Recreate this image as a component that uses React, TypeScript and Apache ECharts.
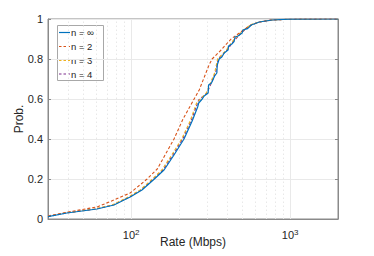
import React, { useEffect, useRef } from 'react';
import * as echarts from 'echarts';

// n = ∞ (solid blue)
const xInf = [30, 39.5, 61, 78, 98.6, 117, 140, 161, 186, 215, 242, 262, 266, 280, 288, 305, 307, 320, 335, 346, 348, 358, 372, 385, 407, 410, 430, 444, 450, 470, 499, 505, 540, 570, 640, 770, 990, 2000];
const yInf = [0.012, 0.03, 0.05, 0.07, 0.11, 0.145, 0.2, 0.245, 0.32, 0.4, 0.49, 0.56, 0.58, 0.6, 0.615, 0.63, 0.67, 0.68, 0.715, 0.73, 0.77, 0.8, 0.81, 0.83, 0.845, 0.865, 0.875, 0.887, 0.91, 0.915, 0.93, 0.945, 0.952, 0.97, 0.985, 0.995, 0.999, 1.0];
// n = 2 (orange dashed)
const x2 = [30, 40, 61, 78, 98.6, 126, 146, 186, 212, 245, 268, 309, 323, 368, 425, 499, 552, 640, 770, 990, 2000];
const y2 = [0.015, 0.035, 0.06, 0.095, 0.13, 0.2, 0.25, 0.4, 0.5, 0.59, 0.645, 0.77, 0.8, 0.845, 0.9, 0.94, 0.965, 0.985, 0.995, 0.999, 1.0];
// n = 3 (yellow dashed)
const x3 = [30, 38.5, 59, 76, 96, 114, 136, 156, 180, 208, 235, 258, 297, 335, 350, 397, 432, 487, 520, 560, 635, 765, 985, 2000];
const y3 = [0.013, 0.03, 0.05, 0.07, 0.11, 0.145, 0.2, 0.245, 0.32, 0.4, 0.49, 0.58, 0.63, 0.73, 0.8, 0.845, 0.887, 0.93, 0.95, 0.97, 0.985, 0.995, 0.999, 1.0];
// n = 4 (purple dashed)
const x4 = [30, 39, 60, 77, 97.5, 115.5, 138, 158.5, 183, 211, 238, 266, 300, 340, 353, 402, 438, 493, 525, 565, 638, 768, 988, 2000];
const y4 = [0.012, 0.03, 0.05, 0.07, 0.11, 0.145, 0.2, 0.245, 0.32, 0.4, 0.49, 0.595, 0.63, 0.73, 0.8, 0.845, 0.887, 0.93, 0.95, 0.97, 0.985, 0.995, 0.999, 1.0];

const seriesNames = ['n = ∞', 'n = 2', 'n = 3', 'n = 4'];
const seriesColors = ['#0072BD', '#D95319', '#EDB120', '#7E2F8E'];
const majorGridX = [100, 1000];
const minorGridX = [40, 50, 60, 70, 80, 90, 200, 300, 400, 500, 600, 700, 800, 900];

const FONT = '"Liberation Sans", Arial, Helvetica, sans-serif';
const TXT = '#262626';
const AX = '#8a8a8a';

export default function App() {
  const ref = useRef<HTMLDivElement>(null);
  useEffect(() => {
    const chart = echarts.init(ref.current!, null, { renderer: 'svg' });
    const pair = (xs: number[], ys: number[]) => xs.map((x, i) => [x, ys[i]]);
    const datasets = [pair(xInf, yInf), pair(x2, y2), pair(x3, y3), pair(x4, y4)];

    const legendLeft = 57, legendTop = 25, legendW = 46, legendH = 55;
    const rowY = [32.5, 46.5, 60.3, 74];
    const legendChildren: any[] = [
      { type: 'rect', shape: { x: legendLeft + 0.5, y: legendTop + 0.5, width: legendW, height: legendH }, style: { fill: '#fff', stroke: '#a8a8a8', lineWidth: 1 } },
    ];
    seriesNames.forEach((nm, i) => {
      legendChildren.push({
        type: 'line',
        shape: { x1: 59, y1: rowY[i], x2: 70, y2: rowY[i] },
        style: { stroke: seriesColors[i], lineWidth: 1.2, lineDash: i === 0 ? null : [2.5, 2] },
      });
      legendChildren.push({
        type: 'text',
        x: 71, y: rowY[i],
        style: { text: nm, fill: TXT, font: `9.5px ${FONT}`, textVerticalAlign: 'middle', textAlign: 'left' },
      });
    });

    const gridLineSeries = (vals: number[], dash: number[] | null, color: string) => ({
      type: 'custom', z: 1, silent: true,
      data: vals.map((v) => [v, 0]),
      encode: { x: 0, y: 1 },
      renderItem: (params: any, api: any) => {
        const v = api.value(0);
        const p0 = api.coord([v, 0]);
        const p1 = api.coord([v, 1]);
        return {
          type: 'line',
          shape: { x1: Math.round(p0[0]) + 0.5, y1: p0[1], x2: Math.round(p1[0]) + 0.5, y2: p1[1] },
          style: { stroke: color, lineWidth: 1, lineDash: dash },
        };
      },
    });

    const option: any = {
      animation: false,
      backgroundColor: '#fff',
      grid: { left: 48, right: 36, top: 19, bottom: 37, containLabel: false, outerBoundsMode: 'none', show: true, borderColor: AX, borderWidth: 1, backgroundColor: 'transparent' },
      xAxis: {
        type: 'log', logBase: 10, min: 30, max: 2000,
        name: 'Rate (Mbps)', nameLocation: 'middle', nameGap: 17, nameMoveOverlap: false,
        nameTextStyle: { color: TXT, fontSize: 12, fontFamily: FONT },
        axisLine: { show: true, lineStyle: { color: AX } },
        axisTick: { show: false },
        minorTick: { show: false },
        minorSplitLine: { show: false },
        axisLabel: {
          margin: 9,
          formatter: (v: number) => {
            const e = Math.log10(v);
            if (Math.abs(e - Math.round(e)) < 1e-6) return `{b|10}{s|${Math.round(e)}}`;
            return '';
          },
          rich: {
            b: { fontSize: 11, color: TXT, fontFamily: FONT },
            s: { fontSize: 8, color: TXT, fontFamily: FONT, padding: [0, 0, 6, 0] },
          },
        },
        splitLine: { show: false },
      },
      yAxis: [
        {
          type: 'value', min: 0, max: 1, interval: 0.2,
          name: 'Prob.', nameLocation: 'middle', nameGap: 23, nameMoveOverlap: false,
          nameTextStyle: { color: TXT, fontSize: 12, fontFamily: FONT },
          axisLine: { show: true, lineStyle: { color: AX } },
          axisTick: { show: true, inside: true, length: 3, lineStyle: { color: AX } },
          axisLabel: { margin: 5, color: TXT, fontSize: 11, fontFamily: FONT },
          splitLine: { show: true, lineStyle: { color: '#e9e9e9', width: 1 } },
        },
        {
          type: 'value', min: 0, max: 1, interval: 0.2, position: 'right',
          axisLine: { show: true, lineStyle: { color: AX } },
          axisTick: { show: true, inside: true, length: 3, lineStyle: { color: AX } },
          axisLabel: { show: false },
          splitLine: { show: false },
        },
      ],
      graphic: [{ type: 'group', z: 100, children: legendChildren }],
      series: [
        gridLineSeries(minorGridX, [1.5, 2.5], '#e8e8e8'),
        gridLineSeries(majorGridX, null, '#e9e9e9'),
        ...datasets.map((d, i) => ({
          type: 'line', name: seriesNames[i], data: d, z: 5 - i,
          showSymbol: false, symbol: 'none', smooth: false,
          lineStyle: { color: seriesColors[i], width: i === 0 ? 1.2 : 1.1, type: i === 0 ? 'solid' : [3, 2] },
          itemStyle: { color: seriesColors[i] },
        })),
      ],
    };
    chart.setOption(option);
    return () => chart.dispose();
  }, []);
  return <div ref={ref} style={{ position: 'fixed', left: 0, top: 0, width: 374, height: 256, background: '#fff' }} />;
}
